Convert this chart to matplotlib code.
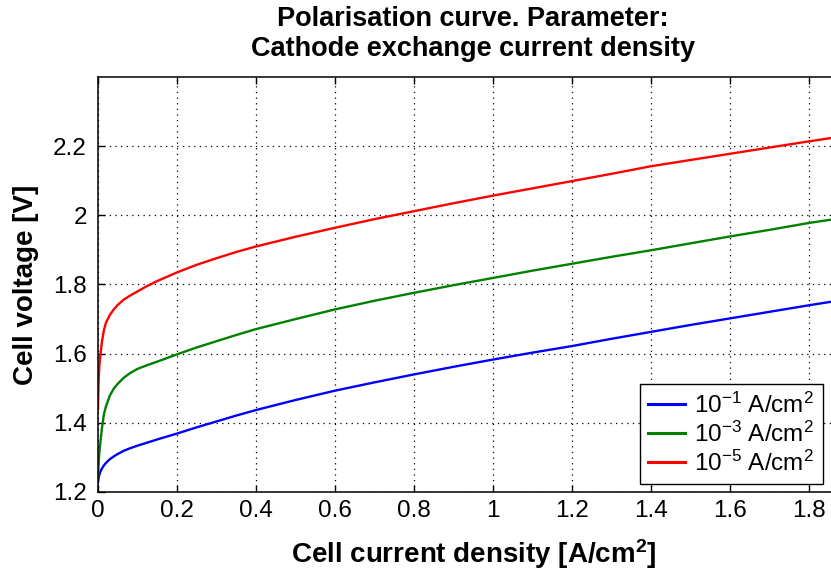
import matplotlib
matplotlib.use("Agg")
import matplotlib.pyplot as plt

plt.rcParams['font.family'] = ['Liberation Sans', 'DejaVu Sans']
plt.rcParams['mathtext.fontset'] = 'custom'
plt.rcParams['mathtext.rm'] = 'Liberation Sans'
plt.rcParams['mathtext.it'] = 'Liberation Sans:italic'
plt.rcParams['mathtext.bf'] = 'Liberation Sans:bold'

current = [0, 0.001, 0.002, 0.0035, 0.005, 0.007, 0.01, 0.015, 0.02, 0.03, 0.04,
           0.05, 0.065, 0.08, 0.1, 0.125, 0.15, 0.2, 0.25, 0.3, 0.35, 0.4, 0.5, 0.6,
           0.7, 0.8, 0.9, 1.0, 1.1, 1.2, 1.3, 1.4, 1.5, 1.6, 1.7, 1.8, 1.9]
v_1e1 = [1.228, 1.236, 1.243, 1.250, 1.255, 1.261, 1.268, 1.277, 1.284, 1.295, 1.303,
         1.310, 1.319, 1.326, 1.334, 1.343, 1.352, 1.369, 1.387, 1.404, 1.421, 1.437,
         1.466, 1.493, 1.517, 1.540, 1.562, 1.583, 1.603, 1.622, 1.643, 1.663, 1.683,
         1.702, 1.721, 1.740, 1.758]
v_1e3 = [1.240, 1.265, 1.290, 1.315, 1.332, 1.353, 1.385, 1.425, 1.447, 1.479, 1.499,
         1.513, 1.530, 1.543, 1.556, 1.567, 1.577, 1.598, 1.618, 1.636, 1.654, 1.671,
         1.700, 1.728, 1.753, 1.776, 1.798, 1.819, 1.840, 1.860, 1.880, 1.899, 1.919,
         1.939, 1.958, 1.978, 1.995]
v_1e5 = [1.440, 1.500, 1.535, 1.565, 1.585, 1.605, 1.635, 1.668, 1.689, 1.712, 1.728,
         1.741, 1.756, 1.767, 1.780, 1.796, 1.810, 1.835, 1.857, 1.876, 1.894, 1.910,
         1.938, 1.964, 1.989, 2.012, 2.035, 2.057, 2.078, 2.099, 2.120, 2.142, 2.160,
         2.178, 2.196, 2.214, 2.231]
labels = [r'$10^{-1}$ A/cm$^2$', r'$10^{-3}$ A/cm$^2$', r'$10^{-5}$ A/cm$^2$']
colors = ['#0000ff', '#008000', '#ff0000']
xticks = [0, 0.2, 0.4, 0.6, 0.8, 1, 1.2, 1.4, 1.6, 1.8]
xticklabels = ['0', '0.2', '0.4', '0.6', '0.8', '1', '1.2', '1.4', '1.6', '1.8']
yticks = [1.2, 1.4, 1.6, 1.8, 2, 2.2]
yticklabels = ['1.2', '1.4', '1.6', '1.8', '2', '2.2']

W, H = 831, 576
fig = plt.figure(figsize=(W / 100, H / 100), dpi=100)
left, right, top, bottom = 98, 848.5, 77, 492
ax = fig.add_axes([left / W, 1 - bottom / H, (right - left) / W, (bottom - top) / H])

for ys, lab, c in zip([v_1e1, v_1e3, v_1e5], labels, colors):
    ax.plot(current, ys, color=c, lw=1.7, label=lab)

ax.set_xlim(0, 1.9)
ax.set_ylim(1.2, 2.4)
ax.set_xticks(xticks)
ax.set_xticklabels(xticklabels)
ax.set_yticks(yticks)
ax.set_yticklabels(yticklabels)
ax.tick_params(direction='in', length=5, width=1, top=True, right=True,
               labelsize=17.5)
ax.tick_params(axis='x', pad=6)
ax.tick_params(axis='y', pad=8)
ax.grid(True, linestyle=(0, (1, 3.5)), color='black', lw=0.9)
for s in ax.spines.values():
    s.set_linewidth(1.1)

ax.set_xlabel(r'Cell current density [A/cm$^\mathbf{2}$]', fontsize=20, fontweight='bold', labelpad=11)
ax.set_ylabel('Cell voltage [V]', fontsize=20, fontweight='bold', labelpad=10)
ax.set_title('Polarisation curve. Parameter:\nCathode exchange current density',
             fontsize=19.5, fontweight='bold', pad=15, linespacing=1.2)

leg = ax.legend(loc='lower right', bbox_to_anchor=(823 / W, 1 - 484 / H),
                bbox_transform=fig.transFigure, borderaxespad=0, fontsize=17.5,
                handlelength=1.5, handletextpad=0.4, fancybox=False,
                edgecolor='black', framealpha=1, labelspacing=0.15,
                borderpad=0.35)
leg.get_frame().set_linewidth(1.0)
for line in leg.get_lines():
    line.set_linewidth(2.2)

fig.savefig('out.png', dpi=100)
